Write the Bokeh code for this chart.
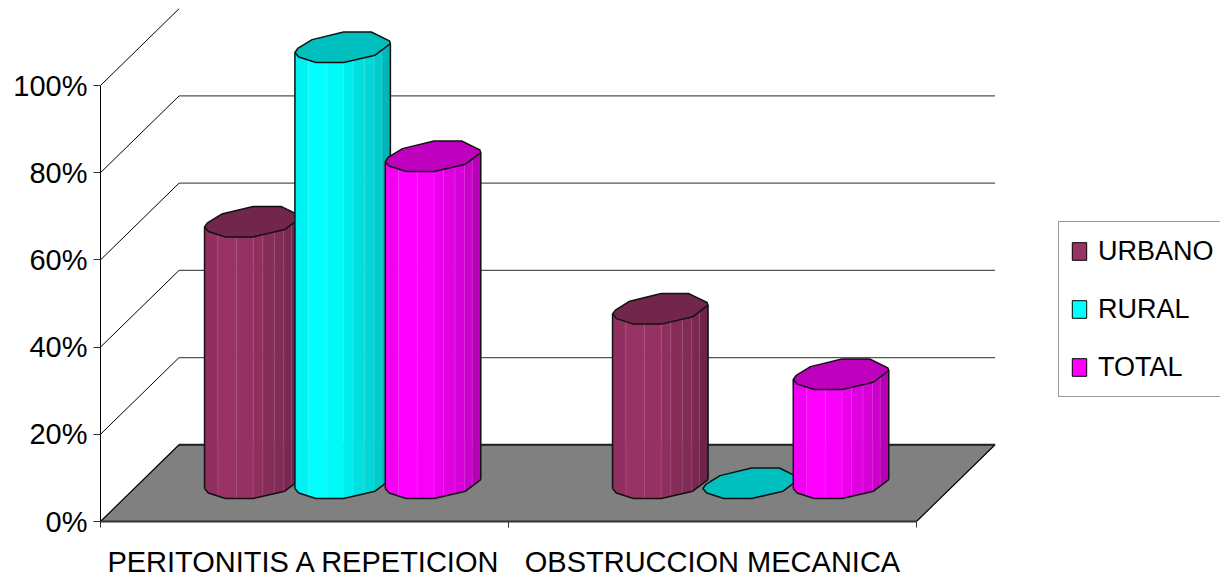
import numpy as np
from bokeh.embed import file_html
from bokeh.models import FixedTicker, Legend, LegendItem
from bokeh.plotting import figure
from bokeh.resources import INLINE

categories = ["PERITONITIS A REPETICION", "OBSTRUCCION MECANICA"]
series_names = ["URBANO", "RURAL", "TOTAL"]
urbano = [60, 40]
rural = [100, 0]
total = [75, 25]
series_values = [urbano, rural, total]
series_colors = ["#993366", "#00FFFF", "#FF00FF"]
y_ticks = [0, 20, 40, 60, 80, 100]

FONT = "Liberation Sans"
FONT_SIZE = "29px"
LEGEND_FONT_SIZE = "27px"

# Oblique projection of the box: shift of the back wall, in axis units
DEPTH_X = 0.1925
DEPTH_Y = 17.6

# Column placement inside one category
BAR_START = 0.255
BAR_STEP = 0.2215
BAR_WIDTH = 0.234
BASE_LIFT = 5.27
CAP_HEIGHT = 7.0

# Octagonal column section, clockwise, as (across, down) fractions of its outline box
SECTION = [(0, .67), (.03, .54), (.18, .25), (.51, 0), (.80, 0), (.99, .29),
           (1, .38), (.84, .76), (.51, 1), (.22, 1), (.04, .82)]
FRONT_EDGE = [(0, .67), (.04, .82), (.22, 1), (.51, 1), (.84, .76), (1, .38)]

# Facet boundaries across a column and the shade of each facet
FACETS = [0, .14, .335, .51, .61, .73, .83, .91, 1]
SHADES = [.95, 1, .98, .93, .88, .85, .80, .72]
CAP_SHADE = .75


def shade(color, k):
    r, g, b = (int(color[i:i + 2], 16) for i in (1, 3, 5))
    return f"#{int(r * k):02x}{int(g * k):02x}{int(b * k):02x}"


def section_y(down, val):
    return val + BASE_LIFT + (1 - np.asarray(down, dtype=float)) * CAP_HEIGHT


p = figure(width=1220, height=581, output_backend="svg", toolbar_location=None,
           x_range=(0, 1120 / 408), y_range=(0, 521 / 4.36),
           frame_width=1120, frame_height=521,
           min_border_left=100, min_border_right=0, min_border_top=0, min_border_bottom=60,
           outline_line_color=None, background_fill_color="white", border_fill_color="white")
p.grid.visible = False

# Value axis
ax = p.yaxis[0]
ax.ticker = FixedTicker(ticks=y_ticks)
ax.major_label_overrides = {v: f"{v}%" for v in y_ticks}
ax.bounds = (0, 100)
ax.major_label_text_font = FONT
ax.major_label_text_font_size = FONT_SIZE
ax.major_label_text_color = "black"
ax.major_tick_out = 7
ax.major_tick_in = 0
ax.minor_tick_out = 0
ax.minor_tick_in = 0
ax.major_label_standoff = 6
ax.axis_line_color = "black"
ax.major_tick_line_color = "#333333"

# Category axis: labels sit mid-category, ticks on the category boundaries
bx = p.xaxis[0]
bx.ticker = FixedTicker(ticks=[0.5, 1.5], minor_ticks=[0, 1, 2])
bx.major_label_overrides = {0.5: categories[0], 1.5: categories[1]}
bx.bounds = (0, 2)
bx.major_tick_out = 0
bx.major_tick_in = 0
bx.minor_tick_out = 6
bx.minor_tick_in = 0
bx.minor_tick_line_color = "#333333"
bx.major_label_text_font = FONT
bx.major_label_text_font_size = FONT_SIZE
bx.major_label_text_color = "black"
bx.major_label_standoff = 18
bx.axis_line_color = "#333333"
bx.axis_line_width = 2

# Back wall gridlines and their returns along the side wall
wall_levels = y_ticks[1:]
p.segment(x0=[0] * len(wall_levels), y0=wall_levels,
          x1=[DEPTH_X] * len(wall_levels), y1=[v + DEPTH_Y for v in wall_levels],
          line_color="black", line_width=1)
p.segment(x0=[DEPTH_X] * 4, y0=[v + DEPTH_Y for v in wall_levels[:-1]],
          x1=[2 + DEPTH_X] * 4, y1=[v + DEPTH_Y for v in wall_levels[:-1]],
          line_color="#555555", line_width=1.3)

# Floor
p.patch([0, 2, 2 + DEPTH_X, DEPTH_X], [0, 0, DEPTH_Y, DEPTH_Y],
        fill_color="#808080", line_color="black", line_width=1.2)
p.line([DEPTH_X, 2 + DEPTH_X], [DEPTH_Y, DEPTH_Y], line_color="#222222", line_width=2)

# Columns, left to right so that each one overlaps its left neighbour
edge_u = [u for u, _ in FRONT_EDGE]
edge_v = [v for _, v in FRONT_EDGE]
for c in range(len(categories)):
    for s, color in enumerate(series_colors):
        val = series_values[s][c]
        x0 = c + BAR_START + s * BAR_STEP
        if val > 0:
            xs, ys = [], []
            for a, b in zip(FACETS[:-1], FACETS[1:]):
                inner = [u for u in edge_u if a < u < b]
                us = np.array([a] + inner + [b])
                low = section_y(np.interp(us, edge_u, edge_v), 0)
                xs.append(list(x0 + us * BAR_WIDTH) + list(x0 + us[::-1] * BAR_WIDTH))
                ys.append(list(low) + list(low[::-1] + val))
            p.patches(xs, ys, fill_color=[shade(color, k) for k in SHADES],
                      line_color=[shade(color, k) for k in SHADES], line_width=0.5)
            # Pale seams between the facets
            seams = np.array(FACETS[1:-1])
            low = section_y(np.interp(seams, edge_u, edge_v), 0)
            p.segment(x0 + seams * BAR_WIDTH, low, x0 + seams * BAR_WIDTH, low + val,
                      line_color="white", line_alpha=0.14, line_width=1)
            # Column outline
            uo = np.array(edge_u)
            vo = section_y(edge_v, 0)
            p.line(list(x0 + uo * BAR_WIDTH), list(vo), line_color="#111111", line_width=1.5)
            p.line([x0, x0], [vo[0], vo[0] + val], line_color="#111111", line_width=1.5)
            p.line([x0 + BAR_WIDTH] * 2, [vo[-1], vo[-1] + val], line_color="#111111", line_width=1.5)
        sx = [x0 + u * BAR_WIDTH for u, _ in SECTION]
        sy = list(section_y([v for _, v in SECTION], val))
        p.patch(sx, sy, fill_color=shade(color, CAP_SHADE), line_color="#111111", line_width=1.5)

# Legend keys
items = []
for name, color in zip(series_names, series_colors):
    key = p.quad(left=[np.nan], right=[np.nan], top=[np.nan], bottom=[np.nan],
                 fill_color=color, line_color="black", line_width=1)
    items.append(LegendItem(label=name, renderers=[key]))

legend = Legend(items=items, location=(958, 124), orientation="vertical",
                border_line_color="#333333", border_line_width=1,
                background_fill_color="white", background_fill_alpha=1,
                label_text_font=FONT, label_text_font_size=LEGEND_FONT_SIZE,
                label_text_color="black", label_standoff=10,
                glyph_width=18, glyph_height=22, label_height=36, label_width=130,
                spacing=22, padding=11, margin=0)
p.add_layout(legend, "center")

open("out.html", "w").write(file_html(p, INLINE))
